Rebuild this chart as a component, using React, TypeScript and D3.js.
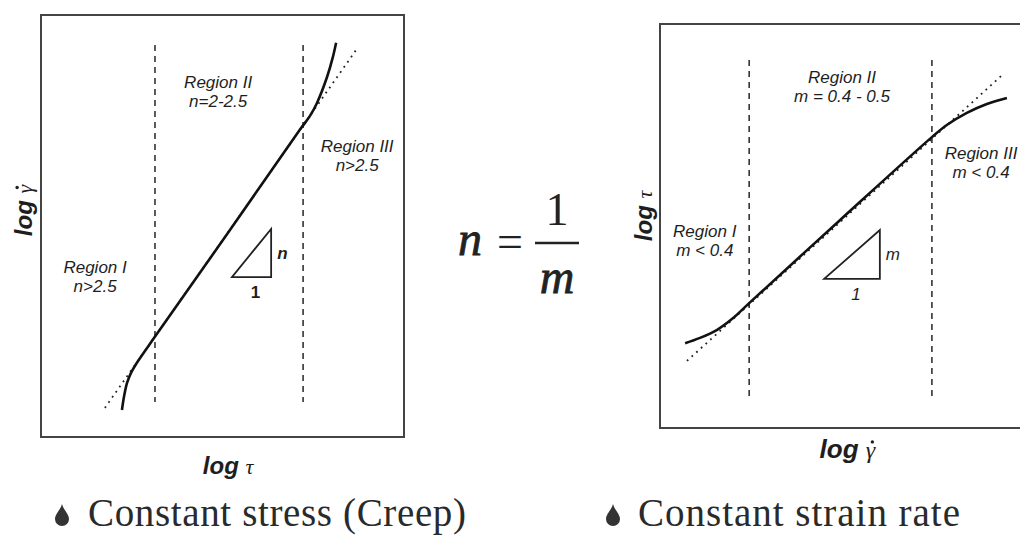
import React from 'react';
import * as d3 from 'd3';

// left panel: log(strain rate) vs log(stress), units 0..10 across the box
const creepCurveX = [2.23, 2.29, 2.37, 2.48, 2.62, 3.2, 5.21, 7.13, 7.41, 7.6, 7.88, 8.04, 8.13];
const creepCurveY = [0.64, 0.97, 1.28, 1.52, 1.73, 2.45, 4.91, 7.28, 7.61, 7.91, 8.53, 9.0, 9.34];
const creepTangentX = [1.76, 8.68];
const creepTangentY = [0.69, 9.17];
const creepBounds = [3.14, 7.22];
const creepBoundSpan = [0.83, 9.29];
const creepTriX = [5.26, 6.34];
const creepTriY = [3.79, 4.93];

// right panel: log(stress) vs log(strain rate)
const rateCurveX = [0.69, 1.1, 1.57, 2.01, 2.45, 4.95, 7.47, 7.88, 8.43, 8.98, 9.53];
const rateCurveY = [2.1, 2.23, 2.43, 2.72, 3.09, 5.15, 7.2, 7.5, 7.8, 8.02, 8.17];
const rateTangentX = [0.74, 9.37];
const rateTangentY = [1.66, 8.71];
const rateBounds = [2.45, 7.47];
const rateBoundSpan = [0.77, 9.11];
const rateTriX = [4.51, 6.04];
const rateTriY = [3.69, 4.9];

const creepLabels = [
  { x: 4.88, y: 8.27, lines: ['Region II', 'n=2-2.5'] },
  { x: 8.71, y: 6.76, lines: ['Region III', 'n>2.5'] },
  { x: 1.49, y: 3.88, lines: ['Region I', 'n>2.5'] },
];
const rateLabels = [
  { x: 5.0, y: 8.54, lines: ['Region II', 'm = 0.4 - 0.5'] },
  { x: 8.82, y: 6.66, lines: ['Region III', 'm < 0.4'] },
  { x: 1.23, y: 4.73, lines: ['Region I', 'm < 0.4'] },
];

const sans = '"Liberation Sans", Arial, sans-serif';
const serif = '"Liberation Serif", "Times New Roman", serif';
const ink = '#1e1e1e';

type PanelProps = {
  x0: number; x1: number; y0: number; y1: number;
  cx: number[]; cy: number[]; tx: number[]; ty: number[];
  bounds: number[]; span: number[]; triX: number[]; triY: number[];
  labels: { x: number; y: number; lines: string[] }[];
  fontSize: number; slope: string; slopeItalicBold: boolean;
};

const Panel = (p: PanelProps) => {
  const x = d3.scaleLinear().domain([0, 10]).range([p.x0, p.x1]);
  const y = d3.scaleLinear().domain([0, 10]).range([p.y1, p.y0]);
  const line = d3.line<[number, number]>().x((d) => x(d[0])).y((d) => y(d[1]));
  const curve = line.curve(d3.curveCatmullRom.alpha(0.5))(
    p.cx.map((v, i) => [v, p.cy[i]] as [number, number])
  );
  const tangent = d3.line<[number, number]>().x((d) => x(d[0])).y((d) => y(d[1]))(
    p.tx.map((v, i) => [v, p.ty[i]] as [number, number])
  );
  const tri = `M${x(p.triX[0])},${y(p.triY[0])}L${x(p.triX[1])},${y(p.triY[0])}L${x(p.triX[1])},${y(p.triY[1])}Z`;
  return (
    <g>
      <rect x={p.x0} y={p.y0} width={p.x1 - p.x0} height={p.y1 - p.y0}
        fill="none" stroke="#444" strokeWidth={2} />
      {p.bounds.map((b, i) => (
        <line key={i} x1={x(b)} x2={x(b)} y1={y(p.span[1])} y2={y(p.span[0])}
          stroke="#333" strokeWidth={1.6} strokeDasharray="6,5" />
      ))}
      <path d={tangent || ''} fill="none" stroke="#222" strokeWidth={1.8} strokeDasharray="1.8,4.5" />
      <path d={curve || ''} fill="none" stroke="#111" strokeWidth={2.6} />
      <path d={tri} fill="none" stroke="#222" strokeWidth={1.8} />
      <text x={x(p.triX[1]) + 6} y={(y(p.triY[0]) + y(p.triY[1])) / 2 + 6}
        fontFamily={sans} fontStyle="italic" fontWeight={p.slopeItalicBold ? 'bold' : 'normal'}
        fontSize={p.fontSize} fill={ink}>{p.slope}</text>
      <text x={(x(p.triX[0]) + x(p.triX[1])) / 2 + 4} y={y(p.triY[0]) + 21}
        fontFamily={sans} fontStyle={p.slopeItalicBold ? 'normal' : 'italic'}
        fontWeight={p.slopeItalicBold ? 'bold' : 'normal'}
        fontSize={p.fontSize} fill={ink} textAnchor="middle">1</text>
      {p.labels.map((l, i) => (
        <text key={i} x={x(l.x)} y={y(l.y)} fontFamily={sans} fontStyle="italic"
          fontSize={p.fontSize} fill={ink} textAnchor="middle">
          {l.lines.map((s, j) => (
            <tspan key={j} x={x(l.x)} dy={j === 0 ? 0 : p.fontSize + 2}>{s}</tspan>
          ))}
        </text>
      ))}
    </g>
  );
};

const Drop = ({ cx, cy }: { cx: number; cy: number }) => (
  <path transform={`translate(${cx},${cy})`}
    d="M0,-11 C1.5,-5 7,-1 7,4 A7,7 0 0 1 -7,4 C-7,-1 -1.5,-5 0,-11 Z" fill="#333" />
);

// "log" + greek symbol; the dot over gamma is drawn as a small circle
const AxisTitle = ({ transform, sym, dot, size }: { transform: string; sym: string; dot: boolean; size: number }) => {
  const logW = 1.778 * size;
  const symW = 0.44 * (size - 2);
  const start = -(logW + symW) / 2;
  return (
    <g transform={transform}>
      <text x={start} fill={ink}>
        <tspan fontFamily={sans} fontWeight="bold" fontStyle="italic" fontSize={size}>log </tspan>
        <tspan fontFamily={serif} fontStyle="italic" fontSize={size - 2}>{sym}</tspan>
      </text>
      {dot && <circle cx={start + logW + symW * 0.62} cy={-size * 0.62} r={1.7} fill={ink} />}
    </g>
  );
};

const App = () => {
  return (
    <svg width={1020} height={536} style={{ position: 'absolute', left: 0, top: 0, background: '#fff' }}>
      <Panel x0={41} x1={404} y0={15} y1={437}
        cx={creepCurveX} cy={creepCurveY} tx={creepTangentX} ty={creepTangentY}
        bounds={creepBounds} span={creepBoundSpan} triX={creepTriX} triY={creepTriY}
        labels={creepLabels} fontSize={17} slope="n" slopeItalicBold={true} />
      <Panel x0={660} x1={1024} y0={24} y1={428}
        cx={rateCurveX} cy={rateCurveY} tx={rateTangentX} ty={rateTangentY}
        bounds={rateBounds} span={rateBoundSpan} triX={rateTriX} triY={rateTriY}
        labels={rateLabels} fontSize={17} slope="m" slopeItalicBold={false} />

      {/* axis titles */}
      <AxisTitle transform="translate(229,474)" sym="τ" dot={false} size={24} />
      <AxisTitle transform="translate(848,458)" sym="γ" dot={true} size={26} />
      <AxisTitle transform="translate(32,210) rotate(-90)" sym="γ" dot={true} size={24} />
      <AxisTitle transform="translate(652,215) rotate(-90)" sym="τ" dot={false} size={24} />

      {/* n = 1/m */}
      <text x={470} y={255} textAnchor="middle" fontFamily={serif} fontStyle="italic" fontSize={48}
        fill="#222" stroke="#222" strokeWidth={0.8}>n</text>
      <text x={510} y={257} textAnchor="middle" fontFamily={serif} fontSize={46} fill="#222">=</text>
      <line x1={535} x2={579} y1={243} y2={243} stroke="#222" strokeWidth={2.4} />
      <text x={557} y={225} textAnchor="middle" fontFamily={serif} fontSize={46} fill="#222">1</text>
      <text x={557} y={293} textAnchor="middle" fontFamily={serif} fontStyle="italic" fontSize={48}
        fill="#222" stroke="#222" strokeWidth={0.8}>m</text>

      {/* bullets */}
      <Drop cx={62} cy={515} />
      <text x={88} y={526} fontFamily={serif} fontSize={39} fill="#2a2a2a" textLength={378}>Constant stress (Creep)</text>
      <Drop cx={613} cy={515} />
      <text x={638} y={526} fontFamily={serif} fontSize={39} fill="#2a2a2a" textLength={322}>Constant strain rate</text>
    </svg>
  );
};

export default App;
